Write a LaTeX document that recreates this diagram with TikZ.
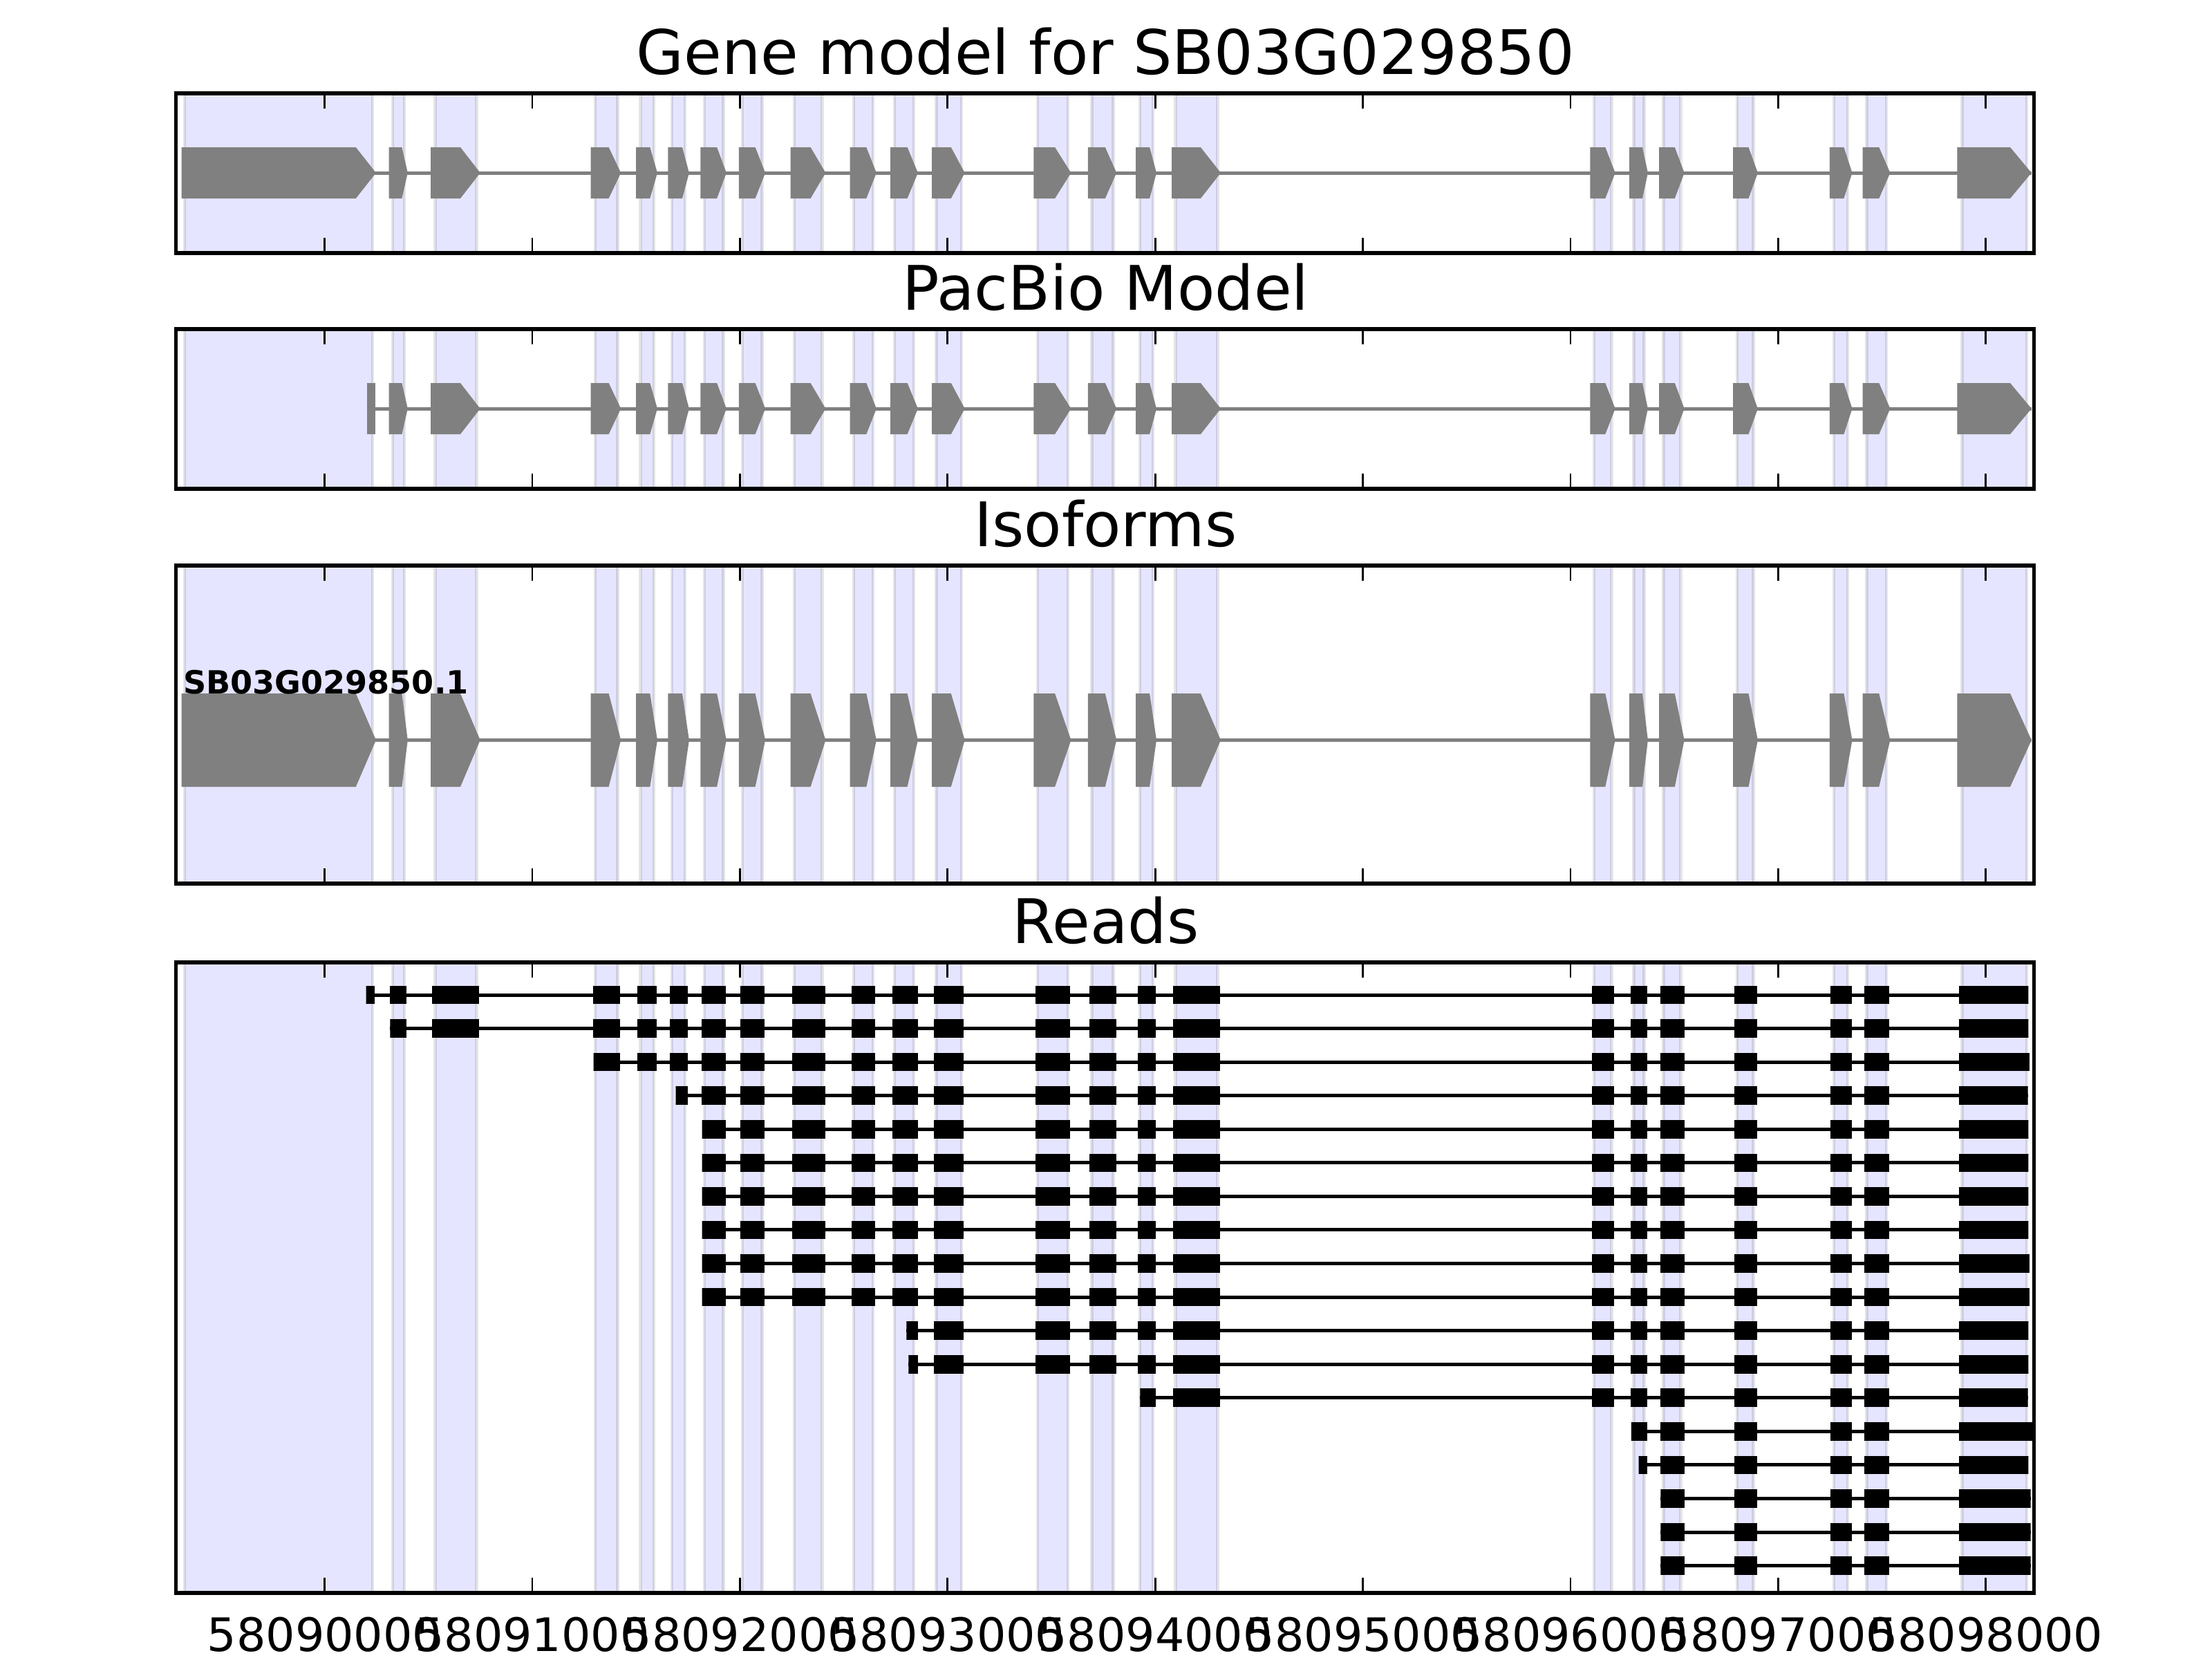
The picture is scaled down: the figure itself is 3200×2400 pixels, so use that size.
\documentclass[tikz,border=0pt]{standalone}
\usepackage{fontspec}
\setmainfont{DejaVu Sans}
\definecolor{exongray}{RGB}{128,128,128}
\newcommand{\shadelist}{267/539, 568/585, 629.6/689.3, 861/893.6, 926.5/946, 972/991.2, 1019.1/1046.7, 1074.2/1102.5, 1149.2/1189.4, 1234.9/1262.9, 1293.9/1322.2, 1354.4/1391.1, 1501.2/1544.8, 1579.3/1610.6, 1648.9/1668, 1700.6/1761.4, 2306.2/2331.3, 2363.4/2378.6, 2406.3/2431.3, 2512.9/2536.6, 2652.7/2673.2, 2700.4/2729, 2838.4/2931.7}
\newcommand{\restlist}{562.7/581.4/589.8, 623.1/666.0/694.7, 854.5/880.6/898.2, 920.0/940.3/951.0, 966.3/987.0/996.9, 1013.4/1037.1/1050.9, 1068.9/1092.6/1107.1, 1143.5/1172.6/1194.4, 1229.6/1253.3/1267.9, 1288.1/1312.6/1327.9, 1348.2/1375.8/1395.7, 1495.4/1526.1/1549.4, 1573.9/1598.8/1615.2, 1643.2/1663.1/1673.0, 1695.2/1736.9/1766.0, 2300.4/2322.3/2336.6, 2357.1/2375.9/2383.9, 2400.0/2422.8/2436.6, 2507.1/2529.5/2542.9, 2646.9/2667.4/2679.5, 2694.6/2718.3/2734.4, 2831.3/2908.0/2938.8}
\newcommand{\readlist}{262/541.5, 565/587.5, 626.3/692.4, 858.5/896.4, 923.2/948.7, 969.6/994.6, 1016/1049.6, 1072.3/1105.4, 1146.4/1192.9, 1232.5/1265.4, 1291.5/1326.7, 1351.5/1393.6, 1498.5/1547.5, 1576.6/1613.7, 1646.6/1671.5, 1697.5/1763.7, 2303.6/2334.4, 2359.8/2382.6, 2403.1/2435.7, 2509.4/2541.5, 2649.1/2677.7, 2697.3/2732.6, 2834.4/2945}
\newcommand{\exonrow}[2]{%
  \foreach \s/\r/\t in \restlist
    \fill[exon] (\s,#1) -- (\r,#1) -- (\t,{(#1+#2)/2}) -- (\r,#2) -- (\s,#2) -- cycle;}
\begin{document}
\begin{tikzpicture}[x=0.18pt,y=-0.18pt]
\tikzstyle{span}=[fill=blue,fill opacity=0.1,draw=black,draw opacity=0.1,line width=0.8pt]
\tikzstyle{frame}=[draw=black,line width=1pt]
\tikzstyle{tickmark}=[draw=black,line width=0.5pt]
\tikzstyle{exon}=[fill=exongray]
\tikzstyle{intron}=[draw=exongray,line width=0.9pt]
\tikzstyle{readexon}=[fill=black,draw=black,line width=0.3pt]
\tikzstyle{readline}=[draw=black,line width=0.9pt]
\tikzstyle{paneltitle}=[font=\fontsize{16}{19}\selectfont,anchor=base,inner sep=0pt]
\tikzstyle{ticklabel}=[font=\fontsize{12}{14}\selectfont,anchor=north,inner sep=0pt]
\useasboundingbox (0,0) rectangle (3200,2400);
\fill[white] (0,0) rectangle (3200,2400);

\foreach \top/\bot in {135/366, 476/707, 818/1278, 1392/2304}
  \foreach \a/\b in \shadelist
    \draw[span] (\a,\top) rectangle (\b,\bot);

\draw[intron] (262.6,250) -- (2938.8,250);
\fill[exon] (262.6,213) -- (514.8,213) -- (543.9,250) -- (514.8,287) -- (262.6,287) -- cycle;
\exonrow{213}{287}

\draw[intron] (530.6,591) -- (2938.8,591);
\fill[exon] (530.6,554) rectangle (542.9,628);
\exonrow{554}{628}

\draw[intron] (262.6,1070.5) -- (2938.8,1070.5);
\fill[exon] (262.6,1003) -- (514.8,1003) -- (543.9,1070.5) -- (514.8,1138) -- (262.6,1138) -- cycle;
\exonrow{1003}{1138}
\node[font=\fontsize{8.3}{10}\selectfont\bfseries,anchor=base west,inner sep=0pt] (isolabel) at (264,1003) {SB03G029850.1};

\foreach \s/\e [count=\i] in {529.5/2934.4, 564.3/2934.4, 858.5/2935.7, 977.7/2933.5, 1015.6/2934.4, 1015.6/2934.4, 1015.6/2934.4, 1015.6/2934.4, 1015.6/2935.7, 1015.6/2935.7, 1311.4/2934.4, 1314.4/2934.4, 1649.3/2933.5, 2359.8/2941, 2370.5/2934.4, 2402.2/2937.5, 2402.2/2937.5, 2402.2/2937.5} {
  \pgfmathsetmacro{\y}{1439+(\i-1)*48.56}
  \draw[readline] (\s,\y) -- (\e,\y);
  \begin{scope}
    \clip (\s,\y-20) rectangle (\e,\y+20);
    \foreach \a/\b in \readlist
      \draw[readexon] (\a,\y-12.5) rectangle (\b,\y+12.5);
  \end{scope}
}

\foreach \top/\bot in {135/366, 476/707, 818/1278, 1392/2304} {
  \foreach \k in {0,...,8} {
    \draw[tickmark] (469.5+300.4*\k,\top) -- ++(0,22);
    \draw[tickmark] (469.5+300.4*\k,\bot) -- ++(0,-22);
  }
  \draw[frame] (254.6,\top) rectangle (2942.4,\bot);
}
\foreach \k in {0,...,8}
  \node[ticklabel] (tick\k) at (469.5+300.4*\k,2338) {\number\numexpr58090000+\k*1000\relax};

\node[paneltitle] (genetitle) at (1599.5,107) {Gene model for SB03G029850};
\node[paneltitle] (pacbiotitle) at (1599.5,448) {PacBio Model};
\node[paneltitle] (isotitle) at (1599.5,790) {Isoforms};
\node[paneltitle] (readtitle) at (1599.5,1364) {Reads};
\end{tikzpicture}
\end{document}
